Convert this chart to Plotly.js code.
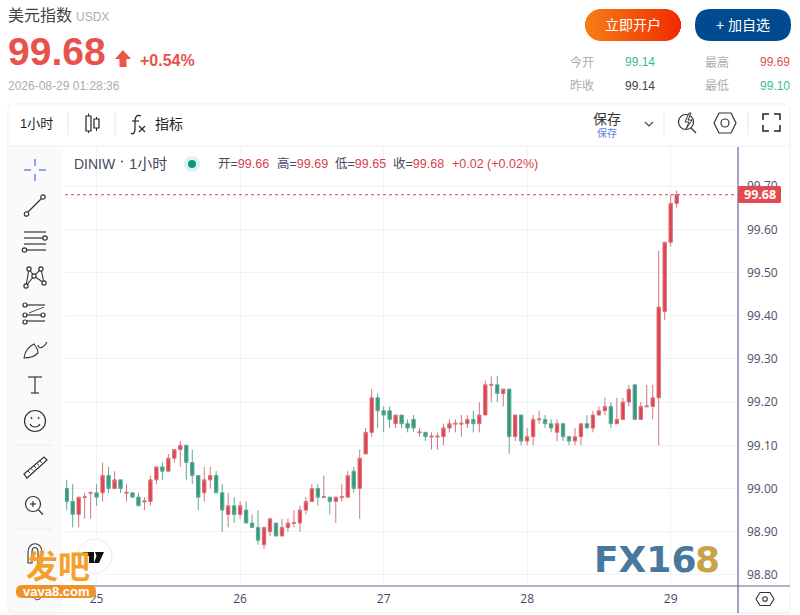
<!DOCTYPE html>
<html><head><meta charset="utf-8">
<script src="https://cdn.plot.ly/plotly-3.0.1.min.js"></script>
<style>html,body{margin:0;padding:0;background:#fff;overflow:hidden}</style>
</head><body><div id="chart" style="width:800px;height:615px"></div>
<script>
const opens=[99.00,98.97,98.94,98.979,98.989,98.99,98.99,99.03,99.00,99.02,
98.989,98.99,98.98,98.969,98.97,99.02,99.05,99.04,99.07,99.09,
99.10,99.06,99.03,98.99,99.02,99.03,98.99,98.94,98.96,98.94,
98.95,98.92,98.91,98.87,98.90,98.92,98.89,98.91,98.919,98.92,
98.95,98.97,99.00,98.979,98.98,98.97,98.979,98.98,99.04,99.00,
99.08,99.13,99.21,99.18,99.18,99.15,99.17,99.15,99.16,99.129,
99.13,99.119,99.119,99.12,99.14,99.149,99.149,99.15,99.16,99.15,
99.17,99.239,99.24,99.22,99.23,99.12,99.17,99.11,99.12,99.159,
99.16,99.15,99.13,99.15,99.12,99.11,99.12,99.15,99.14,99.17,
99.18,99.19,99.15,99.16,99.20,99.24,99.16,99.189,99.19,99.21,
99.41,99.57,99.66];
const highs=[99.02,99.01,98.98,98.99,98.99,99.01,99.06,99.05,99.04,99.02,
99.01,98.99,98.99,98.98,99.03,99.05,99.06,99.08,99.09,99.11,
99.10,99.09,99.03,99.05,99.05,99.04,99.01,98.99,98.98,98.97,
98.97,98.94,98.95,98.91,98.93,98.92,98.93,98.93,98.95,98.96,
98.98,99.01,99.01,99.03,98.98,98.98,99.01,99.04,99.05,99.09,
99.14,99.23,99.22,99.19,99.19,99.17,99.17,99.16,99.17,99.14,
99.13,99.13,99.13,99.15,99.16,99.16,99.17,99.17,99.18,99.20,
99.25,99.26,99.26,99.23,99.23,99.17,99.17,99.14,99.17,99.18,
99.17,99.16,99.16,99.15,99.12,99.14,99.15,99.17,99.18,99.19,
99.21,99.20,99.21,99.21,99.24,99.24,99.20,99.24,99.24,99.55,
99.57,99.68,99.69];
const lows=[98.95,98.91,98.91,98.93,98.93,98.96,98.97,98.99,99.00,98.99,
98.97,98.98,98.96,98.95,98.96,99.01,99.02,99.04,99.06,99.05,
99.02,99.01,98.95,98.97,99.00,98.99,98.90,98.91,98.92,98.93,
98.92,98.91,98.87,98.86,98.89,98.89,98.89,98.90,98.91,98.90,
98.94,98.97,98.96,98.98,98.94,98.92,98.97,98.98,98.99,98.93,
99.08,99.12,99.14,99.13,99.14,99.14,99.14,99.13,99.13,99.12,
99.11,99.09,99.09,99.10,99.13,99.13,99.12,99.14,99.13,99.13,
99.17,99.20,99.20,99.19,99.08,99.11,99.10,99.10,99.10,99.15,
99.14,99.13,99.11,99.11,99.10,99.10,99.10,99.14,99.13,99.17,
99.17,99.14,99.15,99.16,99.19,99.16,99.16,99.189,99.16,99.10,
99.39,99.56,99.65];
const closes=[98.97,98.94,98.98,98.981,98.991,98.98,99.03,99.00,99.02,99.00,
98.991,98.98,98.96,98.971,99.02,99.05,99.04,99.07,99.09,99.10,
99.06,99.03,98.98,99.02,99.03,98.99,98.95,98.96,98.94,98.96,
98.92,98.91,98.88,98.91,98.93,98.89,98.91,98.92,98.921,98.95,
98.97,99.00,98.98,98.981,98.97,98.98,98.981,99.03,99.00,99.07,
99.13,99.21,99.18,99.17,99.16,99.17,99.15,99.14,99.14,99.131,
99.12,99.121,99.121,99.14,99.15,99.151,99.151,99.16,99.15,99.17,
99.24,99.241,99.22,99.23,99.12,99.17,99.11,99.12,99.16,99.161,
99.15,99.14,99.15,99.12,99.11,99.12,99.15,99.14,99.17,99.18,
99.19,99.15,99.16,99.20,99.23,99.16,99.19,99.191,99.21,99.42,
99.57,99.66,99.68];
const barIndex=opens.map((_,i)=>i);
const dayLabels=['25','26','27','28','29'];
const dayBars=[5,29,53,77,101];
const priceTicks=[98.8,98.9,99.0,99.1,99.2,99.3,99.4,99.5,99.6,99.7];
const lastPrice=99.68;

const W=673,H=439,L0=65,B0=586;
const px=x=>(x-L0)/W, py=y=>(B0-y)/H;
const CN='"Liberation Sans","Noto Sans CJK SC",sans-serif';
const shapes=[],ann=[];
function pth(d,o){o=o||{};let c=0;
 const out=d.replace(/-?\d+(\.\d+)?/g,m=>{const v=+m;return ((c++%2===0)?px(v):py(v)).toFixed(5);});
 shapes.push({type:'path',xref:'paper',yref:'paper',path:out,
  line:{color:o.c||'#333',width:o.w===undefined?1.2:o.w},fillcolor:o.f||'rgba(0,0,0,0)',layer:o.layer||'above'});}
function circ(x,y,r,o){o=o||{};shapes.push({type:'circle',xref:'paper',yref:'paper',x0:px(x-r),x1:px(x+r),y0:py(y+r),y1:py(y-r),
  line:{color:o.c||'#333',width:o.w===undefined?1.2:o.w},fillcolor:o.f||'rgba(0,0,0,0)',layer:o.layer||'above'});}
function rect(x0,y0,x1,y1,f,layer){shapes.push({type:'rect',xref:'paper',yref:'paper',x0:px(x0),x1:px(x1),y0:py(y1),y1:py(y0),
  line:{width:0},fillcolor:f,layer:layer||'above'});}
function seg(x0,y0,x1,y1,c,w){pth(`M${x0} ${y0} L${x1} ${y1}`,{c:c||'#333',w:w||1.2});}
function txt(x,y,t,size,color,anchor,extra){ann.push(Object.assign({xref:'paper',yref:'paper',x:px(anchor?x:x-1),y:py(y),text:t,showarrow:false,
  xanchor:anchor||'left',yanchor:'middle',borderpad:0,font:{size:size,color:color,family:CN}},extra||{}));}
function rr(x0,y0,x1,y1,r){return `M${x0+r} ${y0} L${x1-r} ${y0} Q${x1} ${y0} ${x1} ${y0+r} L${x1} ${y1-r} Q${x1} ${y1} ${x1-r} ${y1} L${x0+r} ${y1} Q${x0} ${y1} ${x0} ${y1-r} L${x0} ${y0+r} Q${x0} ${y0} ${x0+r} ${y0} Z`;}

// chrome backgrounds
rect(9,146,63,613,'#fafafb','below');
pth(rr(8,104,790,613,6),{c:'#eef0f3',w:1,layer:'below'});
seg(9,146,790,146,'#f0f1f4',1);
seg(65,586,790,586,'#5d6b8c',1.2);
seg(738,147,738,613,'#5d6b8c',1.2);
seg(739,613,790,613,'#eef0f3',1);

// header
txt(8,16,'美元指数',16,'#444');
txt(76,17,'USDX',12,'#a9acb3');
txt(7.5,51,'<b>99.68</b>',39,'#e8524a');
pth('M123 50 L131 59 L126.5 59 L126.5 67 L119.5 67 L119.5 59 L115 59 Z',{c:'#ee5544',w:0,f:'#ee5544'});
txt(140,60,'<b>+0.54%</b>',16,'#e8524a');
txt(8,86,'2026-08-29 01:28:36',12,'#a9acb3');

// buttons
const c0=[247,125,20],c1=[240,42,3];
for(let x=585;x<681;x++){const t=(x-585)/96,r=16;
 const cx=x+0.5;let dy=0;
 if(cx<585+r)dy=r-Math.sqrt(r*r-(585+r-cx)*(585+r-cx));
 if(cx>681-r)dy=r-Math.sqrt(r*r-(cx-681+r)*(cx-681+r));
 rect(x,9+dy,x+1,41-dy,`rgb(${c0.map((v,i)=>Math.round(v+(c1[i]-v)*t)).join(',')})`);}
pth(rr(695,9,791,41,16),{c:'#004a8f',w:0,f:'#004a8f'});
txt(633,25,'立即开户',14,'#fff','center');
txt(743,25,'+ 加自选',14,'#fff','center');

// stats
txt(570,62,'今开',12,'#a9acb3');txt(625,62,'99.14',12,'#3dba9b');
txt(705,62,'最高',12,'#a9acb3');txt(760,62,'99.69',12,'#d9534f');
txt(570,86,'昨收',12,'#a9acb3');txt(625,86,'99.14',12,'#444');
txt(705,86,'最低',12,'#a9acb3');txt(760,86,'99.10',12,'#3dba9b');

// top toolbar
txt(20,124,'1小时',13,'#222');
seg(68,112,68,136,'#e6e8ec',1);seg(115,112,115,136,'#e6e8ec',1);
seg(88.5,113.5,88.5,133,'#222',1);seg(96.5,117,96.5,131,'#222',1);
pth('M86 116 L91 116 L91 131 L86 131 Z',{c:'#222',w:1.2,f:'#fff'});
pth('M94 119 L99 119 L99 128 L94 128 Z',{c:'#222',w:1.2,f:'#fff'});
pth('M141 116 C137 114 135 117 135 121 L135 129 C135 133 133 135 131 133',{c:'#222',w:1.2});
seg(132,121,139,121,'#222',1.1);seg(139,126,145,132,'#222',1.1);seg(145,126,139,132,'#222',1.1);
txt(155,124,'指标',14,'#222');
txt(606.5,119,'保存',14,'#333','center');
txt(606.5,132.5,'保存',10,'#5b7de8','center');
pth('M645 122 L649 126 L653 122',{c:'#444',w:1.1});
seg(664,112,664,135,'#e6e8ec',1);seg(748,112,748,135,'#e6e8ec',1);
circ(686,122,7.5,{c:'#333',w:1.2,f:'#fff'});
seg(691,128,696,133,'#333',1.3);
pth('M689 113 L685 122 L689 122 L686 129 L692 120 L688 120 L691 113 Z',{c:'#333',w:1,f:'#fff'});
pth('M719 113 L731 113 L736 123 L731 133 L719 133 L714 123 Z',{c:'#333',w:1.2});
circ(725,123,4,{c:'#333',w:1.2});
pth('M763 120 L763 114 L769 114',{c:'#222',w:1.5});pth('M774 114 L780 114 L780 120',{c:'#222',w:1.5});
pth('M763 125 L763 131 L769 131',{c:'#222',w:1.5});pth('M774 131 L780 131 L780 125',{c:'#222',w:1.5});

// left toolbar
const B='#3b6fd4';
seg(24,170,31,170,B,1.2);seg(39,170,46,170,B,1.2);seg(35,159,35,166,B,1.2);seg(35,174,35,181,B,1.2);
seg(28,212,41,199,'#333',1.2);circ(26.5,214,2.2,{f:'#fff'});circ(43,197,2.2,{f:'#fff'});
seg(24,232,46,232);seg(24,238,43,238);seg(24,244,46,244);seg(27,250,46,250);circ(45,238,2.2,{f:'#fff'});circ(24.5,250,2.2,{f:'#fff'});
pth('M26 286 L29 269 L34 276 L41 269 L44 283 L34 276 L26 286',{c:'#333',w:1.1});
[[29,269],[41,269],[34,276],[26,286],[44,283]].forEach(p=>circ(p[0],p[1],2.1,{f:'#fff'}));
seg(26,305,45,305);seg(26,315,45,315);seg(26,321,45,321);
pth('M29 313 L44 307',{c:'#555',w:1});
[[25,305],[25,315],[25,322],[43,315]].forEach(p=>circ(p[0],p[1],2,{f:'#fff'}));
pth('M24 358 C25 350 30 346 34 344 C37 348 38 352 38 353 C34 357 29 358 24 358 Z',{c:'#333',w:1.1});
pth('M38 345 C38 349 43 349 47 342',{c:'#333',w:1.1});
seg(35,377,35,393);seg(28,377,42,377);seg(31,393,39,393);
circ(35,421,10.5,{w:1.2});circ(31.5,418,.7,{c:'#333',f:'#333',w:.6});circ(38.5,418,.7,{c:'#333',f:'#333',w:.6});
pth('M30 424 C32 428 38 428 40 424',{w:1.1});
seg(17,445,52,445,'#e8eaee',1);
pth('M24 474 L44 457 L47 460 L27 478 Z',{c:'#333',w:1.2,f:'#fff'});
[[28,471],[31,468.5],[34,466],[37,463.5],[40,461]].forEach(p=>seg(p[0],p[1],p[0]+2,p[1]+2,'#333',1));
circ(33,504,7.5,{w:1.2,f:'#fff'});seg(38.5,510,43,514.5);seg(30,504,36,504);seg(33,501,33,507);
seg(17,529,52,529,'#e8eaee',1);
pth('M28 563 L28 552 C28 541 42 541 42 552 L42 563 L38 563 L38 552 C38 546 32 546 32 552 L32 563 Z',{w:1.1,f:'#fff'});
pth('M36 586 L42 594 L40 599 L36 600 L30 592 Z',{c:'#555',w:1});

// legend row
txt(74,164,'DINIW',14,'#434a60');circ(122,161.5,1,{c:'#434a60',f:'#434a60',w:0});txt(129,164,'1小时',15,'#434a60');
circ(192,164,8,{c:'rgba(0,0,0,0)',w:0,f:'#e0f3ef'});circ(192,164,4,{c:'#089981',w:0,f:'#089981'});
const U='#d9404a',D='#434a60';
const V=(l,v)=>`<span style="color:${D}">${l}=</span><span style="color:${U}">${v}</span>`;
txt(218,164,V('开','99.66'),12.5,U);txt(277,164,V('高','99.69'),12.5,U);
txt(335,164,V('低','99.65'),12.5,U);txt(393,164,V('收','99.68'),12.5,U);
txt(452,164,'+0.02 (+0.02%)',12.5,U);

// last price
shapes.push({type:'line',xref:'paper',yref:'y',x0:0,x1:1,y0:lastPrice,y1:lastPrice,line:{color:'#d9404a',width:1,dash:'dot'},layer:'above'});
pth(rr(738,186,781,203,1.5),{c:'#e14a50',w:0,f:'#e14a50'});
txt(759.5,194.5,'<b>99.68</b>',12,'#fff','center',{font:{size:12.5,color:'#fff',family:'"Open Sans",sans-serif'}});

// hexagon bottom
pth('M760 592.5 L770 592.5 L774 599 L770 605.5 L760 605.5 L756 599 Z',{c:'#333',w:1.1});
circ(765,599,2.3,{c:'#333',w:1.1});

// TV logo
circ(95,556,17,{c:'#e8eaed',w:1,f:'#fff'});
pth('M83 552 L94 552 L94 563 L89 563 L89 556 L83 556 Z',{c:'#111',w:0,f:'#111'});
pth('M95 552 L104 552 L99 563 L94 563 L96.5 556 Z',{c:'#111',w:0,f:'#111'});

// watermarks
txt(57.5,566.5,'<b>发吧</b>',32,'#f5a02a','center');
pth(rr(16,585,96,598,6),{c:'#f0922a',w:0,f:'#f0922a'});
txt(56,591.5,'<b>vava8.com</b>',13,'#fff','center');
const LF='"DejaVu Sans",sans-serif';
txt(594,559,'<b>FX16</b>',36,'#47799f',undefined,{font:{size:36,color:'#47799f',family:LF}});
txt(695,559,'<b>8</b>',36,'#c9a24a',undefined,{font:{size:36,color:'#c9a24a',family:LF}});

Plotly.newPlot('chart',[{type:'candlestick',x:barIndex,open:opens,high:highs,low:lows,close:closes,
 increasing:{line:{color:'#d4757d',width:1},fillcolor:'#e4404d'},
 decreasing:{line:{color:'#5fa893',width:1},fillcolor:'#2f9a7f'},
 whiskerwidth:0,hoverinfo:'skip'}],
 {width:800,height:615,autosize:false,showlegend:false,dragmode:false,
  margin:{l:L0,r:800-L0-W,t:B0-H,b:615-B0,pad:0},
  paper_bgcolor:'#fff',plot_bgcolor:'#fff',boxgap:0.2,
  font:{family:CN},
  xaxis:{type:'linear',range:[-0.284,112.26],rangeslider:{visible:false},tickmode:'array',tickvals:dayBars,ticktext:dayLabels,
   showgrid:true,gridcolor:'#f2f3f5',gridwidth:1,zeroline:false,showline:false,ticks:'',ticklabelstandoff:4,
   tickfont:{size:12,color:'#3f4a6a',family:'"Open Sans",sans-serif'},fixedrange:true},
  yaxis:{type:'linear',range:[98.7743,99.7905],side:'right',tickmode:'array',tickvals:priceTicks,ticktext:priceTicks.map(v=>v.toFixed(2)),
   showgrid:true,gridcolor:'#f2f3f5',gridwidth:1,zeroline:false,showline:false,ticks:'',ticklabelstandoff:8,
   tickfont:{size:12,color:'#4a5068',family:'"Open Sans",sans-serif'},fixedrange:true},
  shapes:shapes,annotations:ann},{displayModeBar:false,staticPlot:true});
</script></body></html>
